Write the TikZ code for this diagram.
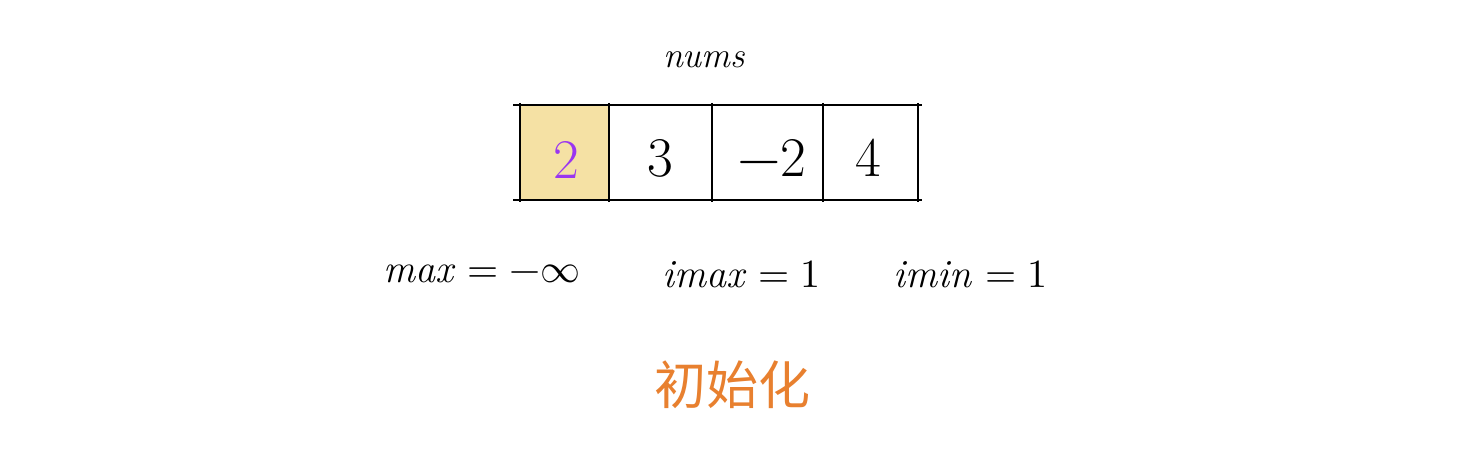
\documentclass[tikz,border=0pt]{standalone}
\usepackage{fontspec}
\usepackage{unicode-math}
\setmathfont{Latin Modern Math}
\newfontfamily\cjk{Noto Sans CJK SC}
\definecolor{cellyellow}{HTML}{F5E1A4}
\definecolor{numpurple}{HTML}{9A36F0}
\definecolor{titleorange}{HTML}{E8802F}
\tikzset{
  gridline/.style={line width=2.8pt, black},
  celltext/.style={font=\fontsize{56}{62}\selectfont, inner sep=0pt},
  vartext/.style={font=\fontsize{40}{46}\selectfont\itshape, inner sep=0pt, anchor=west},
}
\begin{document}
\begin{tikzpicture}[x=1pt,y=-1pt]
\useasboundingbox (0,0) rectangle (1468,454);
\fill[white] (0,0) rectangle (1468,454);
% highlighted first cell
\fill[cellyellow] (520,106) rectangle (609,199);
% horizontal lines
\coordinate (tl) at (513,105);
\coordinate (tr) at (922,105);
\coordinate (bl) at (513,200);
\coordinate (br) at (922,200);
\draw[gridline] (tl) -- (tr);
\draw[gridline] (bl) -- (br);
% vertical separators
\foreach \x/\n in {520/a,609/b,712/c,823/d,918/e}{
  \coordinate (v\n t) at (\x,103);
  \coordinate (v\n b) at (\x,202);
  \draw[gridline] (v\n t) -- (v\n b);
}
% cell values
\node[celltext, text=numpurple] (c1) at (566,160) {2};
\node[celltext] (c2) at (660,158) {3};
\node[celltext] (c3) at (772,158) {$-$2};
\node[celltext] (c4) at (868,158) {4};
% label
\node[font=\fontsize{36}{42}\selectfont\itshape, inner sep=0pt] (nums) at (704,60) {nums};
% variables
\node[vartext] (maxv) at (383,274) {max $=-\infty$};
\node[vartext] (imax) at (662,274) {imax $=1$};
\node[vartext] (imin) at (893,274) {imin $=1$};
% caption
\node[font=\fontsize{52}{60}\selectfont\cjk, text=titleorange, inner sep=0pt] (cap) at (732,385) {初始化};
\end{tikzpicture}
\end{document}
